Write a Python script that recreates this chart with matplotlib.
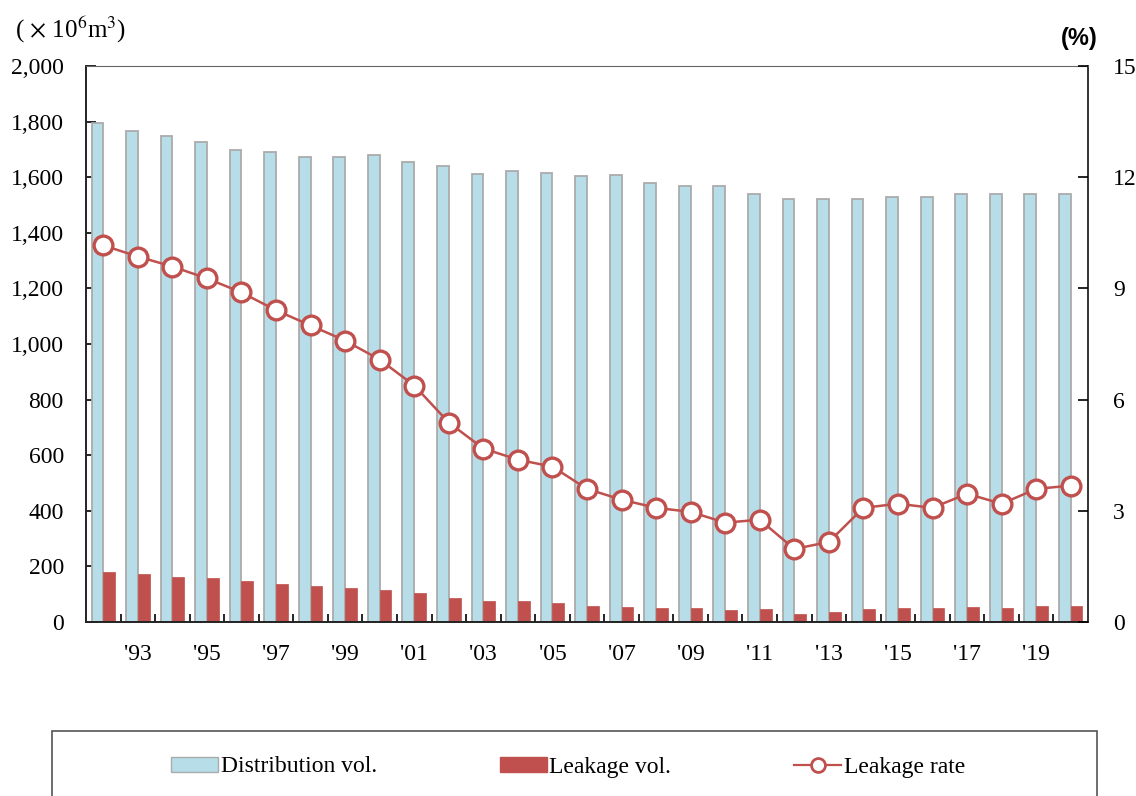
import numpy as np
import matplotlib.pyplot as plt
from matplotlib.patches import Rectangle
from matplotlib.lines import Line2D
from matplotlib.patches import Patch

plt.rcParams['font.family'] = ['Liberation Serif', 'DejaVu Serif']
plt.rcParams['mathtext.fontset'] = 'stix'

# 데이터 (1992 ~ 2020)
years = list(range(1992, 2021))
distribution = [1795, 1766, 1748, 1726, 1697, 1690, 1672, 1672, 1679, 1654,
                1640, 1611, 1622, 1614, 1604, 1607, 1578, 1568, 1568, 1539,
                1521, 1521, 1521, 1528, 1528, 1539, 1539, 1539, 1539]
leakage = [179, 172, 163, 160, 148, 137, 128, 124, 116, 105,
           88, 77, 74, 70, 58, 53, 49, 49, 42, 46,
           30, 35, 47, 50, 50, 55, 50, 59, 59]
leak_rate = [10.16, 9.86, 9.59, 9.27, 8.89, 8.41, 8.0, 7.59, 7.08, 6.38,
             5.38, 4.68, 4.38, 4.19, 3.59, 3.30, 3.08, 2.97, 2.68, 2.76,
             1.97, 2.16, 3.08, 3.19, 3.08, 3.46, 3.19, 3.59, 3.68]
xlabels = ["'" + str(y)[2:] for y in years if y % 2 == 1]

blue = '#B7DEE8'
red = '#C0504D'
fs = 17

fig = plt.figure(figsize=(11.36, 7.96), dpi=100)
ax = fig.add_axes([86/1136, 1-622/796, (1088-86)/1136, (622-66)/796])
x = np.arange(len(years))

ax.bar(x - 0.17, distribution, width=0.34, color=blue, edgecolor='#ABABAB', linewidth=1.3, zorder=2)
ax.bar(x + 0.17, leakage, width=0.34, color=red, edgecolor=red, linewidth=0.5, zorder=2)
ax.set_xlim(-0.5, len(years) - 0.5)
ax.set_ylim(0, 2000)
ax.set_yticks(range(0, 2001, 200))
ax.set_yticklabels([f'{v:,}' for v in range(0, 2001, 200)], fontsize=fs)
ax.tick_params(axis='y', direction='in', length=7, pad=16, width=1.2)

# 구간 경계 눈금 + 라벨
ax.set_xticks(np.arange(0.5, len(years) - 0.5, 1))
ax.set_xticklabels([])
ax.tick_params(axis='x', which='major', direction='in', length=6, width=1.2)
ax.set_xticks([i for i, y in enumerate(years) if y % 2 == 1], minor=True)
ax.set_xticklabels(xlabels, minor=True, fontsize=fs)
ax.tick_params(axis='x', which='minor', length=0, pad=16)

for s in ['left', 'bottom']:
    ax.spines[s].set_linewidth(1.4)
    ax.spines[s].set_color('#222222')
ax.spines['top'].set_color('#666666')
ax.spines['right'].set_color('#333333')
ax.spines['right'].set_linewidth(1.4)

ax2 = ax.twinx()
ax2.plot(x, leak_rate, color=red, linewidth=1.8, marker='o', markersize=13.5,
         markerfacecolor='white', markeredgecolor=red, markeredgewidth=2.4, zorder=3)
ax2.set_ylim(0, 15)
ax2.set_yticks([0, 3, 6, 9, 12, 15])
ax2.set_yticklabels(['0', '3', '6', '9', '12', '15'], fontsize=fs)
ax2.tick_params(axis='y', direction='in', length=7, pad=18, width=1.2)
for s in ax2.spines.values():
    s.set_visible(False)

fig.text(15/1136, 1-30/796, '( $\\times$ 10$^{6}$m$^{3}$)', fontsize=fs + 1, va='center', ha='left')
fig.text(1098/1136, 1-38/796, '(%)', fontsize=fs, va='center', ha='right',
         family='Liberation Sans', weight='bold')

# 범례 박스
fig.patches.append(Rectangle((52/1136, -0.01), (1097-52)/1136, (796-731)/796 + 0.01,
                             transform=fig.transFigure, fill=False,
                             edgecolor='#555555', linewidth=1.2))
handles = [Patch(facecolor=blue, edgecolor='#ABABAB', label='Distribution vol.'),
           Patch(facecolor=red, edgecolor=red, label='Leakage vol.'),
           Line2D([], [], color=red, marker='o', markersize=10, markerfacecolor='white',
                  markeredgewidth=2, linewidth=1.6, label='Leakage rate')]
fig.legend(handles=handles, loc='center', bbox_to_anchor=(0.5, 1-767/796), ncol=3,
           frameon=False, fontsize=fs, columnspacing=5.2, handlelength=2.0,
           handletextpad=0.1, handleheight=0.6)

fig.savefig('out.png', dpi=100)
